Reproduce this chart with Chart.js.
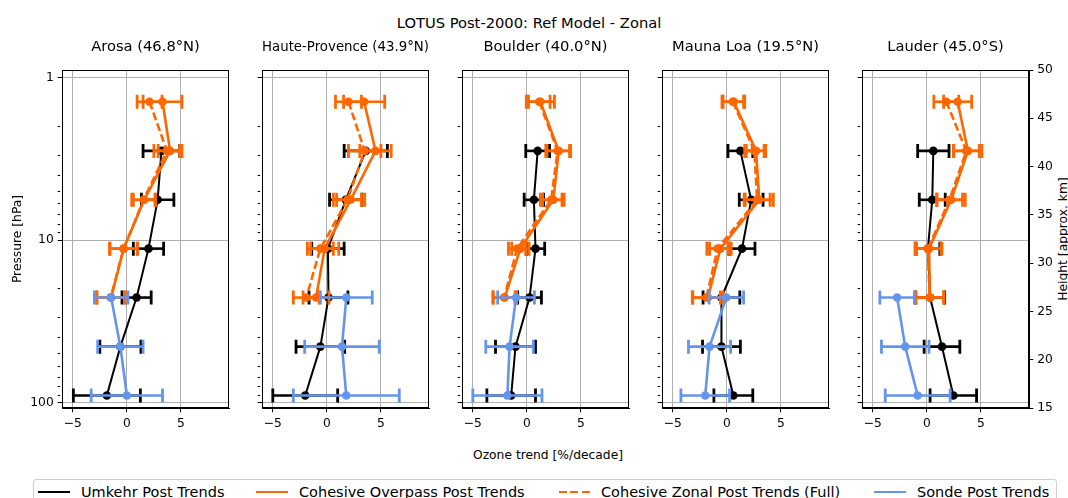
<!DOCTYPE html>
<html>
<head>
<meta charset="utf-8">
<script src="https://cdn.jsdelivr.net/npm/chart.js@4/dist/chart.umd.min.js"></script>
<style>
  body { margin: 0; width: 1068px; height: 498px; overflow: hidden; background: #fff; position: relative;
         font-family: 'DejaVu Sans', sans-serif; color: #000; }
  canvas { position: absolute; }
  .txt { position: absolute; white-space: nowrap; line-height: 18px; }
  .leg { position: absolute; left: 33px; top: 479px; width: 1024px; height: 40px; border: 1px solid #cfcfcf; border-radius: 3px; box-sizing: border-box; }
  .sample { position: absolute; height: 0; }
</style>
</head>
<body>
<div class="txt" style="left:529px;top:14px;font-size:14.7px;transform:translateX(-50%)">LOTUS Post-2000: Ref Model - Zonal</div>
<div class="txt" style="left:548px;top:446px;font-size:12.3px;transform:translateX(-50%)">Ozone trend [%/decade]</div>
<div class="txt" style="left:1063px;top:239px;font-size:12.3px;transform:translate(-50%,-50%) rotate(-90deg)">Height [approx. km]</div>
<div class="leg"></div>
<div id="legend"></div>

<script>
//-------------Data
const stations = ['Arosa (46.8°N)', 'Haute-Provence (43.9°N)', 'Boulder (40.0°N)', 'Mauna Loa (19.5°N)', 'Lauder (45.0°S)']
const levels = [1.41, 2.83, 5.66, 11.3, 22.6, 45.3, 90.5]   // hPa, Umkehr layer centres
const kmTicks = [15, 20, 25, 30, 35, 40, 45, 50]
const xTicks = [-5, 0, 5]
const seriesNames = ['Umkehr Post Trends', 'Cohesive Overpass Post Trends', 'Cohesive Zonal Post Trends (Full)', 'Sonde Post Trends']

const umkehrTrend = [
  [null, 3.2, 2.85, 2.0, 0.9, -0.6, -1.85],
  [null, 3.6, 1.75, 0.1, 0.15, -0.6, -2.0],
  [null, 1.0, 0.65, 0.8, 0.25, -1.05, -1.45],
  [null, 1.25, 2.25, 1.4, -0.5, -0.5, 0.6],
  [null, 0.6, 0.5, 0.1, 0.3, 1.4, 2.45]
]
const umkehrErr = [
  [null, 1.7, 1.5, 1.4, 1.35, 1.9, 3.1],
  [null, 2.0, 1.5, 1.5, 1.8, 2.25, 3.0],
  [null, 1.1, 0.9, 0.85, 1.1, 1.85, 2.25],
  [null, 1.15, 1.1, 1.2, 1.7, 1.75, 1.8],
  [null, 1.45, 1.2, 1.1, 1.35, 1.65, 2.15]
]
const overpassTrend = [
  [3.3, 4.0, 1.6, -0.3, -1.45, null, null],
  [3.45, 4.5, 2.2, -0.2, -1.0, null, null],
  [1.25, 2.95, 2.45, -0.6, -2.05, null, null],
  [0.65, 2.7, 3.0, -0.6, -1.75, null, null],
  [2.85, 3.8, 2.25, 0.2, 0.3, null, null]
]
const overpassErr = [
  [1.8, 1.1, 1.0, 1.25, 1.3, null, null],
  [1.9, 1.45, 1.3, 1.3, 1.2, null, null],
  [1.3, 1.1, 1.0, 0.8, 1.1, null, null],
  [1.0, 0.9, 1.3, 1.0, 1.4, null, null],
  [1.3, 1.3, 1.3, 1.2, 1.3, null, null]
]
const zonalTrend = [
  [2.1, 3.7, 1.55, -0.3, -1.5, null, null],
  [2.0, 3.5, 1.9, -0.6, -1.9, null, null],
  [1.15, 2.85, 2.25, -0.9, -2.1, null, null],
  [0.55, 2.55, 2.8, -0.85, -1.9, null, null],
  [1.8, 3.65, 2.1, 0.1, 0.25, null, null]
]
const zonalErr = [
  [1.15, 1.2, 1.1, 1.3, 1.3, null, null],
  [1.2, 1.5, 1.3, 1.2, 1.2, null, null],
  [1.0, 1.1, 1.0, 0.8, 1.0, null, null],
  [1.0, 0.9, 1.2, 1.0, 1.3, null, null],
  [1.15, 1.2, 1.2, 1.2, 1.3, null, null]
]
const sondeTrend = [
  [null, null, null, null, -1.45, -0.6, 0.0],
  [null, null, null, null, 1.8, 1.4, 1.8],
  [null, null, null, null, -1.0, -1.6, -1.8],
  [null, null, null, null, -0.05, -1.6, -2.0],
  [null, null, null, null, -2.75, -2.0, -0.85]
]
const sondeErr = [
  [null, null, null, null, 1.55, 2.1, 3.3],
  [null, null, null, null, 2.4, 3.45, 4.9],
  [null, null, null, null, 1.7, 2.2, 3.2],
  [null, null, null, null, 1.6, 1.95, 2.25],
  [null, null, null, null, 1.6, 2.2, 3.0]
]

//-------------Styles
const FONT = 'DejaVu Sans'
const BLACK = '#000000', ORANGE = '#ff6600', BLUE = '#6495ed'
const PLOT_LEFT = [62, 262, 462, 662, 862], PLOT_W = 167
const TOP = 30, HEIGHT = 408

Chart.defaults.color = '#000'
Chart.defaults.font.family = FONT

// error bars drawn from each dataset's errors[] through the chart scales
const errorBars = {
  id: 'errorBars',
  beforeDatasetDraw(chart, args) {
    const ds = chart.data.datasets[args.index]
    if (!ds.errors) return
    const {ctx, scales: {x, y}} = chart
    ctx.save()
    ctx.strokeStyle = ds.borderColor
    ctx.setLineDash([])
    ds.data.forEach((p, k) => {
      const e = ds.errors[k]
      const x0 = x.getPixelForValue(p.x - e), x1 = x.getPixelForValue(p.x + e)
      const py = y.getPixelForValue(p.y)
      ctx.lineWidth = 2.6
      ctx.beginPath(); ctx.moveTo(x0, py); ctx.lineTo(x1, py); ctx.stroke()
      ctx.lineWidth = 2.8
      ctx.beginPath()
      ctx.moveTo(x0, py - 7); ctx.lineTo(x0, py + 7)
      ctx.moveTo(x1, py - 7); ctx.lineTo(x1, py + 7)
      ctx.stroke()
    })
    ctx.restore()
  }
}

// full axes box like the matplotlib spines
const frame = {
  id: 'frame',
  afterDraw(chart) {
    const {ctx, chartArea: a} = chart
    ctx.save()
    ctx.strokeStyle = '#000'
    ctx.lineWidth = 1
    ctx.strokeRect(Math.round(a.left) + 0.5, Math.round(a.top) + 0.5, Math.round(a.right - a.left) - 1, Math.round(a.bottom - a.top) - 1)
    ctx.restore()
  }
}

function makeSet(label, trend, err, color, width, dash, order) {
  const data = [], errors = []
  levels.forEach((p, k) => {
    if (trend[k] == null) return
    data.push({x: trend[k], y: p})
    errors.push(err[k])
  })
  return {
    label: label, data: data, errors: errors, showLine: true,
    borderColor: color, backgroundColor: color, pointBackgroundColor: color,
    borderWidth: width, borderDash: dash, pointRadius: 4.3, pointHoverRadius: 4.3,
    pointBorderWidth: 0, order: order, clip: false
  }
}

const majors = [1, 10, 100]
const minusFmt = v => (v < 0 ? '\u2212' + Math.abs(v) : String(v))

function drawPanel(i) {
  const first = i === 0, last = i === 4
  const leftW = first ? 62 : 25
  const rightW = last ? 39 : 6
  const canvas = document.createElement('canvas')
  canvas.width = leftW + PLOT_W + rightW
  canvas.height = HEIGHT
  canvas.style.left = (PLOT_LEFT[i] - leftW) + 'px'
  canvas.style.top = TOP + 'px'
  document.body.appendChild(canvas)

  const scales = {
    x: {
      type: 'linear', min: -6, max: 9.45,
      afterBuildTicks: s => { s.ticks = xTicks.map(v => ({value: v})) },
      afterFit: s => { s.height = 30 },
      ticks: {callback: minusFmt, font: {size: 12.3}, padding: 4, maxRotation: 0},
      grid: {color: '#b0b0b0', lineWidth: 1, tickColor: '#000', tickLength: 4.3},
      border: {color: '#000', width: 1}
    },
    y: {
      type: 'logarithmic', reverse: true, min: 0.9, max: 108, position: 'left',
      afterBuildTicks: s => {
        const t = []
        for (const d of [1, 10]) for (let m = 1; m < 10; m++) t.push({value: m * d})
        t.push({value: 100})
        s.ticks = t
      },
      afterFit: s => { s.width = leftW },
      ticks: {
        callback: v => (first && majors.includes(v) ? String(v) : ''),
        font: {size: 12.3}, padding: 4, autoSkip: false
      },
      grid: {
        color: c => (c.tick && majors.includes(c.tick.value) ? '#b0b0b0' : 'rgba(0,0,0,0)'),
        lineWidth: 1, tickColor: '#000', tickLength: 4.3,
        tickBorderDash: c => (c.tick && majors.includes(c.tick.value) ? [] : [2.4, 20])
      },
      border: {color: '#000', width: 1},
      title: {display: first, text: 'Pressure [hPa]', font: {size: 12.3}, padding: {top: 10, bottom: 0}}
    }
  }
  if (last) {
    scales.y2 = {
      type: 'linear', position: 'right', min: 15, max: 50,
      afterBuildTicks: s => { s.ticks = kmTicks.map(v => ({value: v})) },
      afterFit: s => { s.width = rightW },
      ticks: {font: {size: 12.3}, padding: 4},
      grid: {drawOnChartArea: false, tickColor: '#000', tickLength: 4.3},
      border: {color: '#000', width: 1}
    }
  }

  Graph = new Chart(canvas, {
    type: 'scatter',
    data: {
      datasets: [
        makeSet(seriesNames[0], umkehrTrend[i], umkehrErr[i], BLACK, 2, [], 4),
        makeSet(seriesNames[1], overpassTrend[i], overpassErr[i], ORANGE, 2.6, [], 3),
        makeSet(seriesNames[2], zonalTrend[i], zonalErr[i], ORANGE, 2.6, [8, 3.5], 2),
        makeSet(seriesNames[3], sondeTrend[i], sondeErr[i], BLUE, 2.6, [], 1)
      ]
    },
    options: {
      responsive: false,
      animation: false,
      layout: {padding: {left: 0, right: last ? 0 : rightW, top: 0, bottom: 0}},
      plugins: {
        legend: {display: false},
        tooltip: {enabled: false},
        title: {
          display: true, text: stations[i], color: '#000', fullSize: false,
          font: {size: 14.7, weight: 'normal', lineHeight: 1.2},
          padding: {top: 8.2, bottom: 14.16}
        }
      },
      scales: scales
    },
    plugins: [errorBars, frame]
  })
  return Graph
}

const charts = stations.map((s, i) => drawPanel(i))

//-------------Legend (from the first chart's datasets)
const legendPos = [[38, 81], [256, 299], [559, 601], [874, 917]]
const legendDiv = document.getElementById('legend')
charts[0].data.datasets.forEach((ds, k) => {
  const [lx, tx] = legendPos[k]
  const line = document.createElement('div')
  line.className = 'sample'
  line.style.left = lx + 'px'
  line.style.top = (492 - ds.borderWidth / 2) + 'px'
  line.style.width = '32px'
  if (ds.borderDash.length) {
    line.style.height = ds.borderWidth + 'px'
    line.style.background = `repeating-linear-gradient(90deg, ${ds.borderColor} 0 8px, transparent 8px 11.5px)`
  } else {
    line.style.borderTop = ds.borderWidth + 'px solid ' + ds.borderColor
  }
  legendDiv.appendChild(line)
  const label = document.createElement('div')
  label.className = 'txt'
  label.style.left = tx + 'px'
  label.style.top = '483px'
  label.style.fontSize = '14.5px'
  label.textContent = ds.label
  legendDiv.appendChild(label)
})
</script>
</body>
</html>
